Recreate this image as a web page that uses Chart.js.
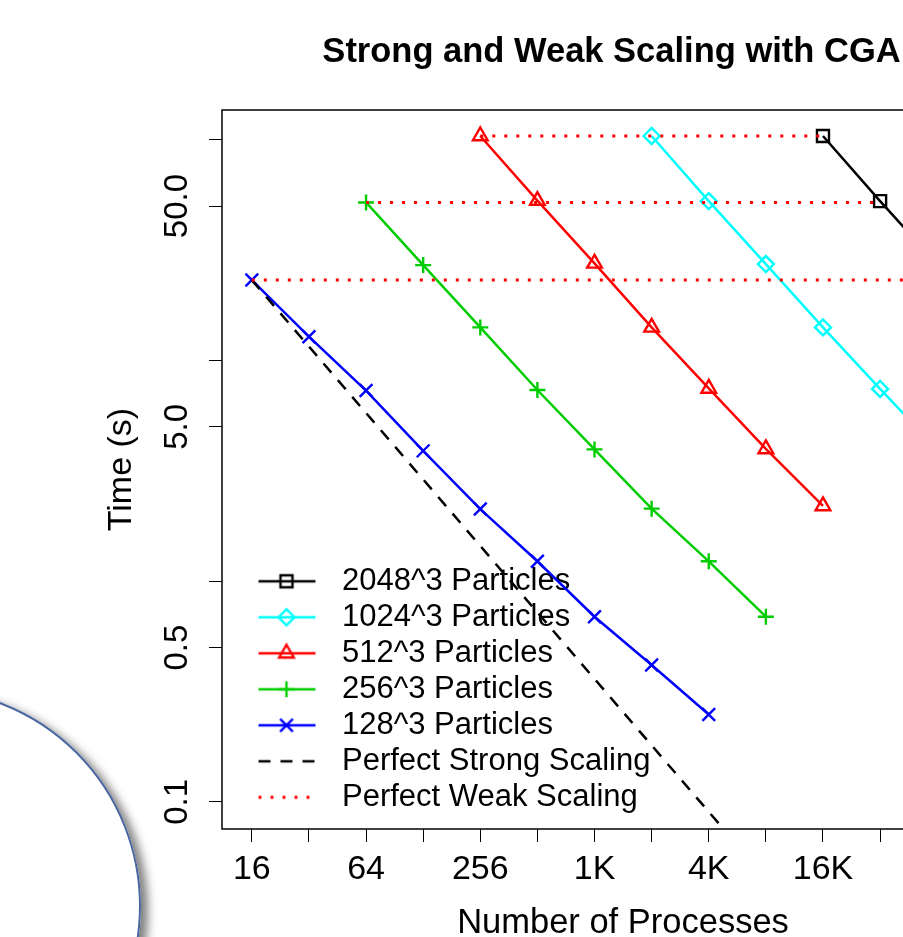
<!DOCTYPE html>
<html>
<head>
<meta charset="utf-8">
<title>Strong and Weak Scaling</title>
<script src="https://cdn.jsdelivr.net/npm/chart.js@4.4.1/dist/chart.umd.min.js"></script>
<style>
  html, body { margin: 0; padding: 0; background: #fff; overflow: hidden; }
  #frame { position: relative; width: 903px; height: 937px; overflow: hidden; }
  #plot { position: absolute; left: 0; top: 0; }
  /* slide decoration in the lower left corner */
  #ring { position: absolute; left: -295px; top: 688px; width: 436px; height: 436px; box-sizing: border-box;
          border: 2px solid #4a66a0; border-radius: 50%; box-shadow: 7px 5px 10px rgba(0,0,0,0.5); }
</style>
</head>
<body>
<div id="frame">
  <canvas id="plot" width="1223" height="937"></canvas>
  <div id="ring"></div>
</div>
<script>
// number of processes and time in seconds
const procs2048 = [16384, 32768, 65536, 131072];
const time2048  = [103.8, 52.6, 27.3, 14.1];
const procs1024 = [2048, 4096, 8192, 16384, 32768, 65536];
const time1024  = [103.8, 52.6, 27.3, 14.1, 7.42, 3.95];
const procs512  = [256, 512, 1024, 2048, 4096, 8192, 16384];
const time512   = [103.8, 52.9, 27.5, 14.1, 7.46, 3.97, 2.19];
const procs256  = [64, 128, 256, 512, 1024, 2048, 4096, 8192];
const time256   = [51.9, 27.0, 14.1, 7.34, 3.95, 2.13, 1.23, 0.69];
const procs128  = [16, 32, 64, 128, 256, 512, 1024, 2048, 4096];
const time128   = [23.1, 12.8, 7.30, 3.89, 2.12, 1.23, 0.69, 0.417, 0.249];

// reference lines
const strongProcs = [16, 8192];
const strongTime  = [23.1, 0.0451];
const weakStart = [256, 64, 16];
const weakEnd   = [16384, 32768, 65536];
const weakTime  = [103.8, 51.9, 23.1];

// axes
const xTicks = [16, 32, 64, 128, 256, 512, 1024, 2048, 4096, 8192, 16384, 32768, 65536, 131072];
const xTickLabels = ['16', '', '64', '', '256', '', '1K', '', '4K', '', '16K', '', '64K', ''];
const yTicks = [0.1, 0.5, 1, 5, 10, 50, 100];
const yTickLabels = ['0.1', '0.5', '', '5.0', '', '50.0', ''];

const seriesNames = ['2048^3 Particles', '1024^3 Particles', '512^3 Particles', '256^3 Particles', '128^3 Particles'];
const lineNames = ['Perfect Strong Scaling', 'Perfect Weak Scaling'];

const FONT = "'Liberation Sans', Arial, Helvetica, sans-serif";
const W = 1223;

function pts(xs, ys) {
  return xs.map((x, i) => ({ x: x, y: ys[i] }));
}

const series = [
  { xs: procs2048, ys: time2048, color: '#000000', shape: 'rect', r: 8.5 },
  { xs: procs1024, ys: time1024, color: '#00ffff', shape: 'rectRot', r: 8 },
  { xs: procs512,  ys: time512,  color: '#ff0000', shape: 'triangle', r: 8.5 },
  { xs: procs256,  ys: time256,  color: '#00cd00', shape: 'cross', r: 8 },
  { xs: procs128,  ys: time128,  color: '#0000ff', shape: 'crossRot', r: 9 }
];

const datasets = [];
weakTime.forEach((t, i) => {
  datasets.push({
    label: lineNames[1],
    data: [{ x: weakStart[i], y: t }, { x: weakEnd[i], y: t }],
    showLine: true, borderColor: '#ff0000', borderWidth: 3, borderDash: [3, 9],
    pointRadius: 0, clip: 0
  });
});
datasets.push({
  label: lineNames[0],
  data: pts(strongProcs, strongTime),
  showLine: true, borderColor: '#000000', borderWidth: 2.5, borderDash: [12, 10],
  pointRadius: 0, clip: 0
});
series.forEach((s, i) => {
  datasets.push({
    label: seriesNames[i],
    data: pts(s.xs, s.ys),
    showLine: true, borderColor: s.color, borderWidth: 2.5,
    pointStyle: s.shape, pointRadius: s.r, pointHoverRadius: s.r,
    pointBorderColor: s.color, pointBackgroundColor: 'rgba(0,0,0,0)', pointBorderWidth: 2.4,
    clip: 0
  });
});

// little line + symbol pictures for the legend
function legendIcon(color, shape, r, dash, width) {
  const c = document.createElement('canvas');
  c.width = 99; c.height = 26;
  const g = c.getContext('2d');
  g.strokeStyle = color;
  g.fillStyle = 'rgba(0,0,0,0)';
  g.lineWidth = width;
  g.setLineDash(dash);
  g.beginPath(); g.moveTo(31, 13); g.lineTo(88, 13); g.stroke();
  if (shape) {
    g.setLineDash([]);
    g.lineWidth = 2.4;
    Chart.helpers.drawPoint(g, { pointStyle: shape, radius: r, borderWidth: 2.4, rotation: 0 }, 59, 13);
  }
  return c;
}
const legendIcons = series.map(s => legendIcon(s.color, s.shape, s.r, [], 2.5));
legendIcons.push(legendIcon('#000000', null, 0, [12, 10], 2.5));
legendIcons.push(legendIcon('#ff0000', null, 0, [3, 9], 3));
const legendNames = seriesNames.concat(lineNames);

const frameBox = {
  id: 'frameBox',
  beforeDatasetsDraw(chart) {
    const a = chart.chartArea, g = chart.ctx;
    g.save();
    g.strokeStyle = '#000';
    g.lineWidth = 1.5;
    g.strokeRect(a.left, a.top, a.right - a.left, a.bottom - a.top);
    g.restore();
  }
};

// put the legend in the lower left part of the plot
const legendSpot = {
  id: 'legendSpot',
  afterLayout(chart) {
    const lg = chart.legend;
    lg.left = chart.chartArea.left + 0.5;
    lg.top = 560.8;
    lg.bottom = chart.chartArea.bottom;
  }
};

const tickGrid = { display: true, drawOnChartArea: false, drawTicks: true, tickLength: 13, color: '#000', lineWidth: 1 };

new Chart(document.getElementById('plot'), {
  type: 'scatter',
  data: { datasets: datasets },
  plugins: [frameBox, legendSpot],
  options: {
    responsive: false,
    animation: false,
    devicePixelRatio: 1,
    layout: { padding: 0 },
    elements: { line: { tension: 0 } },
    plugins: {
      tooltip: { enabled: false },
      title: {
        display: true,
        text: 'Strong and Weak Scaling with CGA',
        color: '#000',
        font: { family: FONT, size: 34.5, weight: 'bold' },
        padding: { top: 32, bottom: 36.6 }
      },
      legend: {
        position: 'chartArea',
        align: 'start',
        labels: {
          color: '#000',
          font: { family: FONT, size: 31 },
          padding: 5,
          usePointStyle: true,
          pointStyleWidth: 99,
          generateLabels: () => legendNames.map((name, i) => ({
            text: name,
            pointStyle: legendIcons[i],
            fillStyle: 'rgba(0,0,0,0)',
            strokeStyle: 'rgba(0,0,0,0)',
            lineWidth: 0,
            hidden: false
          }))
        }
      }
    },
    scales: {
      x: {
        type: 'logarithmic',
        position: 'bottom',
        min: 11.14,
        max: 187900,
        afterBuildTicks: s => { s.ticks = xTicks.map(v => ({ value: v })); },
        afterFit: s => { s.height = 108; },
        grid: tickGrid,
        border: { display: false },
        ticks: {
          autoSkip: false, minRotation: 0, maxRotation: 0, padding: 7, color: '#000',
          font: { family: FONT, size: 34 },
          callback: (v, i) => xTickLabels[i]
        },
        title: {
          display: true, text: 'Number of Processes', color: '#000',
          font: { family: FONT, size: 34.5, lineHeight: 0.76 }, padding: 0
        }
      },
      y: {
        type: 'logarithmic',
        position: 'left',
        min: 0.0754,
        max: 136.1,
        afterBuildTicks: s => { s.ticks = yTicks.map(v => ({ value: v })); },
        afterFit: s => { s.width = 222; },
        grid: tickGrid,
        border: { display: false },
        ticks: {
          autoSkip: false, minRotation: 90, maxRotation: 90, crossAlign: 'center', padding: -1, color: '#000',
          font: { family: FONT, size: 33 },
          callback: (v, i) => yTickLabels[i]
        },
        title: {
          display: true, text: 'Time (s)', color: '#000',
          font: { family: FONT, size: 34 }, padding: { top: 101.6, bottom: 0 }
        }
      },
      // empty right margin, like the plot's own
      pad: {
        type: 'linear',
        position: 'right',
        display: true,
        grid: { display: false },
        border: { display: false },
        ticks: { display: false },
        afterFit: s => { s.width = W - 1024; }
      }
    }
  }
});
</script>
</body>
</html>
